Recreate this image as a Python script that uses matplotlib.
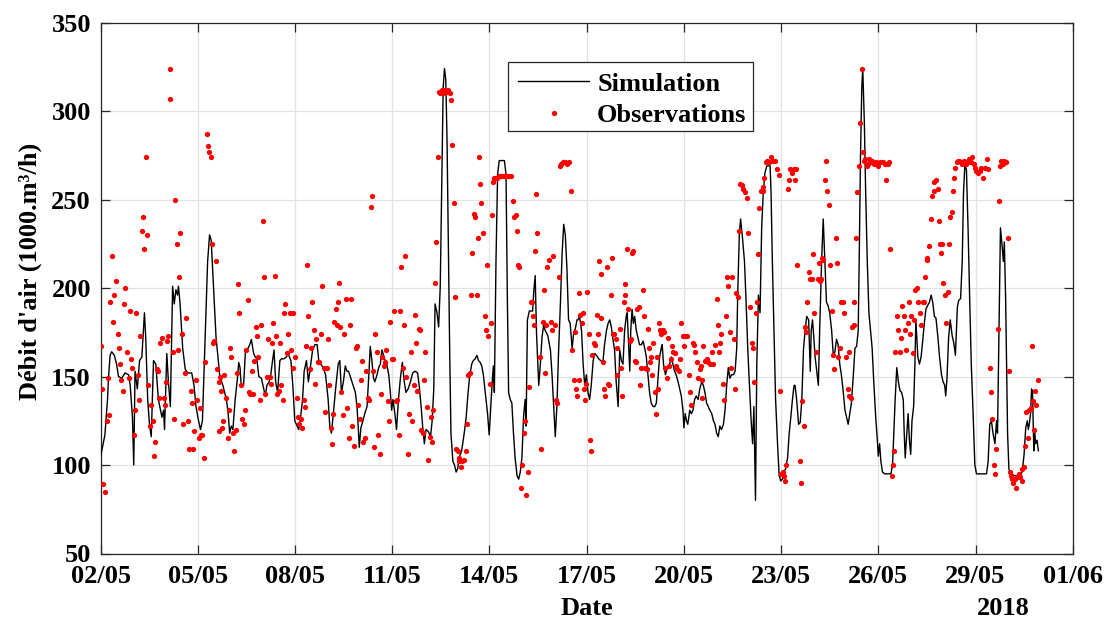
import numpy as np
import matplotlib
matplotlib.use('Agg')
import matplotlib.pyplot as plt
from matplotlib.patches import Rectangle

# ---------------- data (days since 02/05/2018 00:00) ----------------
sim_days = [0.00, 0.13, 0.21, 0.24, 0.29, 0.34, 0.42, 0.49, 0.55, 0.65, 0.75, 0.86, 0.91, 0.98, 1.02, 1.06, 1.13, 1.20, 1.27, 1.35,
            1.39, 1.45, 1.51, 1.56, 1.63, 1.70, 1.78, 1.89, 1.94, 1.97, 2.04, 2.09, 2.15, 2.22, 2.27, 2.32, 2.37, 2.40, 2.45, 2.53,
            2.61, 2.69, 2.81, 2.88, 2.94, 3.02, 3.08, 3.14, 3.23, 3.30, 3.36, 3.41, 3.48, 3.56, 3.62, 3.67, 3.77, 3.88, 3.93, 3.98,
            4.03, 4.08, 4.15, 4.22, 4.26, 4.30, 4.34, 4.41, 4.47, 4.55, 4.60, 4.65, 4.72, 4.77, 4.82, 4.88, 4.96, 5.03, 5.08, 5.13,
            5.20, 5.25, 5.29, 5.35, 5.40, 5.46, 5.53, 5.58, 5.65, 5.73, 5.78, 5.87, 5.93, 5.99, 6.06, 6.11, 6.17, 6.23, 6.28, 6.35,
            6.41, 6.47, 6.54, 6.61, 6.68, 6.73, 6.79, 6.87, 6.94, 7.02, 7.07, 7.12, 7.17, 7.25, 7.33, 7.38, 7.43, 7.49, 7.55, 7.60,
            7.65, 7.72, 7.79, 7.86, 7.91, 7.95, 7.98, 8.03, 8.08, 8.15, 8.22, 8.27, 8.32, 8.37, 8.42, 8.46, 8.53, 8.58, 8.63, 8.68,
            8.73, 8.78, 8.83, 8.89, 8.94, 8.98, 9.02, 9.08, 9.13, 9.19, 9.25, 9.31, 9.37, 9.42, 9.49, 9.56, 9.63, 9.70, 9.78, 9.83,
            9.89, 9.94, 9.99, 10.04, 10.11, 10.18, 10.23, 10.28, 10.32, 10.38, 10.43, 10.48, 10.53, 10.57, 10.61, 10.65, 10.69, 10.73, 10.77, 10.81,
            10.87, 10.92, 10.97, 11.02, 11.06, 11.14, 11.22, 11.28, 11.33, 11.38, 11.45, 11.50, 11.56, 11.61, 11.66, 11.71, 11.76, 11.81, 11.87, 11.94,
            11.99, 12.04, 12.09, 12.12, 12.15, 12.20, 12.25, 12.30, 12.38, 12.46, 12.51, 12.55, 12.59, 12.64, 12.69, 12.74, 12.79, 12.85, 12.90, 12.95,
            13.00, 13.05, 13.10, 13.13, 13.17, 13.23, 13.33, 13.37, 13.41, 13.45, 13.52, 13.57, 13.62, 13.67, 13.72, 13.80, 13.88, 13.93, 13.98, 14.03,
            14.08, 14.13, 14.19, 14.24, 14.29, 14.34, 14.39, 14.44, 14.49, 14.55, 14.60, 14.65, 14.70, 14.73, 14.78, 14.84, 14.89, 14.94, 14.99, 15.04,
            15.09, 15.14, 15.20, 15.25, 15.30, 15.37, 15.43, 15.50, 15.55, 15.61, 15.66, 15.71, 15.76, 15.81, 15.86, 15.91, 15.97, 16.02, 16.07, 16.12,
            16.17, 16.22, 16.25, 16.29, 16.33, 16.36, 16.40, 16.44, 16.48, 16.53, 16.58, 16.63, 16.69, 16.74, 16.79, 16.84, 16.89, 16.94, 16.99, 17.05,
            17.10, 17.15, 17.20, 17.25, 17.30, 17.33, 17.37, 17.43, 17.49, 17.56, 17.61, 17.66, 17.71, 17.76, 17.82, 17.87, 17.92, 17.97, 18.00, 18.04,
            18.08, 18.12, 18.18, 18.23, 18.28, 18.33, 18.38, 18.44, 18.49, 18.55, 18.60, 18.65, 18.70, 18.75, 18.80, 18.86, 18.91, 18.96, 19.01, 19.06,
            19.11, 19.16, 19.22, 19.27, 19.32, 19.37, 19.42, 19.47, 19.53, 19.58, 19.63, 19.66, 19.71, 19.75, 19.80, 19.87, 19.92, 19.97, 20.02, 20.07,
            20.12, 20.16, 20.21, 20.25, 20.30, 20.35, 20.40, 20.45, 20.50, 20.56, 20.61, 20.66, 20.69, 20.73, 20.78, 20.83, 20.89, 20.94, 20.99, 21.04,
            21.09, 21.14, 21.20, 21.25, 21.30, 21.35, 21.40, 21.43, 21.48, 21.54, 21.59, 21.64, 21.69, 21.74, 21.79, 21.85, 21.90, 21.93, 21.97, 22.01,
            22.05, 22.10, 22.15, 22.19, 22.25, 22.30, 22.35, 22.40, 22.45, 22.50, 22.56, 22.61, 22.66, 22.71, 22.76, 22.81, 22.86, 22.92, 22.97, 23.02,
            23.07, 23.12, 23.17, 23.23, 23.28, 23.33, 23.38, 23.41, 23.45, 23.49, 23.52, 23.57, 23.61, 23.66, 23.71, 23.76, 23.81, 23.86, 23.92, 23.97,
            24.00, 24.04, 24.08, 24.13, 24.20, 24.31, 24.39, 24.44, 24.48, 24.52, 24.57, 24.62, 24.67, 24.72, 24.77, 24.80, 24.83, 24.88, 24.92, 24.96,
            25.00, 25.04, 25.09, 25.13, 25.16, 25.22, 25.27, 25.32, 25.37, 25.42, 25.47, 25.52, 25.58, 25.63, 25.68, 25.73, 25.78, 25.84, 25.89, 25.95,
            26.00, 26.05, 26.08, 26.12, 26.17, 26.22, 26.28, 26.33, 26.38, 26.41, 26.44, 26.48, 26.54, 26.59, 26.63, 26.67, 26.72, 26.77, 26.82, 26.87,
            26.93, 26.98, 27.03, 27.18, 27.34, 27.39, 27.44, 27.49, 27.54, 27.60, 27.65, 27.68, 27.71, 27.74, 27.77, 27.80, 27.83, 27.86, 27.89, 27.93,
            27.96, 27.99, 28.03, 28.07, 28.21, 28.37, 28.44, 28.50, 28.55, 28.60, 28.63, 28.66, 28.70, 28.73, 28.76, 28.80, 28.83, 28.86, 28.90, 28.94]
sim_vals = [105, 117, 137, 149, 162, 164, 162, 157, 150, 149, 152, 151, 145, 127, 100, 153, 143, 159, 161, 186,
            172, 137, 122, 116, 159, 157, 137, 127, 131, 120, 163, 147, 133, 201, 191, 199, 196, 201, 191, 166,
            154, 152, 152, 145, 133, 125, 120, 125, 176, 215, 230, 227, 201, 172, 161, 151, 145, 137, 130, 118,
            122, 120, 137, 149, 158, 155, 144, 145, 165, 166, 168, 171, 163, 161, 160, 150, 149, 143, 139, 145,
            147, 151, 157, 165, 147, 141, 159, 160, 160, 161, 163, 159, 145, 125, 122, 120, 127, 137, 153, 159,
            147, 155, 165, 168, 168, 159, 157, 155, 151, 137, 122, 118, 127, 143, 157, 159, 141, 147, 156, 153,
            153, 149, 145, 141, 133, 121, 110, 121, 124, 129, 133, 149, 167, 159, 149, 147, 151, 155, 157, 165,
            162, 159, 157, 151, 141, 131, 137, 129, 120, 137, 149, 158, 147, 141, 143, 147, 152, 153, 152, 145,
            133, 121, 112, 120, 119, 116, 125, 143, 191, 186, 178, 201, 264, 313, 324, 318, 283, 225, 166, 118,
            102, 100, 96, 98, 104, 108, 118, 127, 139, 149, 157, 159, 160, 162, 159, 158, 156, 151, 141, 129,
            117, 133, 149, 156, 141, 215, 264, 272, 272, 272, 264, 196, 141, 137, 135, 118, 104, 94, 92, 96,
            104, 127, 137, 122, 182, 187, 187, 199, 207, 175, 145, 157, 172, 179, 176, 173, 165, 151, 133, 116,
            133, 163, 192, 219, 236, 230, 211, 182, 180, 166, 175, 177, 182, 182, 184, 176, 157, 145, 151, 141,
            137, 145, 159, 163, 162, 160, 159, 158, 168, 176, 180, 182, 178, 171, 165, 147, 133, 165, 159, 157,
            176, 184, 186, 170, 153, 176, 188, 180, 184, 176, 172, 168, 168, 170, 166, 161, 151, 141, 135, 133,
            133, 135, 149, 161, 166, 168, 157, 151, 155, 157, 161, 157, 153, 151, 147, 143, 139, 131, 121, 129,
            125, 123, 131, 129, 131, 137, 139, 137, 143, 147, 145, 141, 135, 133, 131, 129, 125, 123, 118, 116,
            122, 120, 123, 131, 145, 155, 149, 151, 151, 153, 166, 196, 230, 239, 230, 215, 192, 166, 147, 127,
            112, 133, 80, 157, 196, 186, 234, 254, 265, 269, 269, 269, 254, 215, 176, 137, 112, 94, 91, 92,
            96, 98, 104, 118, 127, 137, 145, 145, 137, 123, 124, 137, 165, 176, 184, 182, 153, 176, 182, 172,
            161, 153, 145, 176, 215, 239, 215, 192, 190, 186, 176, 162, 164, 171, 168, 157, 151, 141, 131, 127,
            123, 129, 135, 151, 166, 167, 176, 215, 274, 313, 324, 293, 254, 215, 186, 176, 166, 147, 127, 114,
            105, 112, 102, 96, 95, 95, 95, 100, 118, 137, 155, 147, 142, 141, 137, 118, 104, 118, 129, 114,
            106, 125, 133, 157, 182, 161, 157, 161, 170, 180, 188, 190, 192, 196, 192, 184, 183, 172, 161, 151,
            147, 145, 139, 149, 172, 182, 173, 169, 162, 176, 189, 193, 194, 215, 254, 269, 267, 234, 194, 157,
            127, 100, 95, 95, 95, 102, 123, 125, 118, 112, 125, 118, 157, 194, 234, 228, 222, 215, 226, 194,
            157, 118, 98, 95, 94, 94, 96, 106, 121, 125, 120, 123, 129, 143, 141, 108, 118, 112, 114, 108]

obs_days = [0.00, 0.05, 0.08, 0.13, 0.18, 0.26, 0.22, 0.29, 0.34, 0.39, 0.42, 0.47, 0.52, 0.55, 0.60, 0.63, 0.68, 0.73, 0.76, 0.80,
            0.86, 0.89, 0.93, 0.97, 1.02, 1.05, 1.10, 1.14, 1.18, 1.22, 1.27, 1.30, 1.34, 1.39, 1.42, 1.47, 1.51, 1.56, 1.60, 1.64,
            1.68, 1.73, 1.78, 1.81, 1.84, 1.89, 1.94, 1.97, 2.02, 2.05, 2.09, 2.15, 2.14, 2.23, 2.27, 2.30, 2.34, 2.38, 2.42, 2.46,
            2.51, 2.55, 2.59, 2.64, 2.69, 2.73, 2.78, 2.81, 2.85, 2.89, 2.94, 2.97, 3.02, 3.08, 3.10, 3.14, 3.18, 3.23, 3.27, 3.30,
            3.35, 3.39, 3.43, 3.46, 3.51, 3.56, 3.60, 3.66, 3.64,
            3.67, 3.70, 3.74, 3.78, 3.82, 3.88, 3.93, 3.95, 3.99, 4.03, 4.08, 4.12, 4.17, 4.21, 4.25, 4.28, 4.33, 4.37, 4.41, 4.45,
            4.49, 4.54, 4.58, 4.62, 4.66, 4.70, 4.74, 4.78, 4.82, 4.87, 4.91, 4.95, 5.00, 5.04, 5.08, 5.12, 5.16, 5.21, 5.25, 5.29,
            5.33, 5.37, 5.41, 5.45, 5.49, 5.54, 5.58, 5.62, 5.66, 5.70, 5.74, 5.78, 5.83, 5.88, 5.92, 5.95, 6.01, 6.05, 6.09, 6.13,
            6.17, 6.22, 6.26, 6.30, 6.34, 6.38, 6.41, 6.45, 6.49, 6.53, 6.58, 6.62, 6.66, 6.71, 6.74, 6.79, 6.83, 6.88, 6.92, 6.97,
            7.01, 7.06, 7.10, 7.13, 7.17, 7.21, 7.25, 7.29, 7.33, 7.35,
            7.39, 7.43, 7.48, 7.52, 7.57, 7.61, 7.65, 7.69, 7.73, 7.77, 7.82, 7.87, 7.91, 7.95, 7.99, 8.02, 8.06, 8.11, 8.15, 8.20,
            8.25, 8.29, 8.34, 8.36, 8.39, 8.43, 8.48, 8.53, 8.57, 8.61, 8.65, 8.69, 8.73, 8.77, 8.81, 8.86, 8.90, 8.94, 8.98, 9.02,
            9.06, 9.10, 9.14, 9.20, 9.24, 9.28, 9.32, 9.36, 9.40, 9.43, 9.49, 9.53, 9.57, 9.61, 9.66, 9.69, 9.73, 9.77, 9.81, 9.86,
            9.90, 9.95, 9.99, 10.02, 10.06, 10.11, 10.15, 10.20, 10.24, 10.27, 10.31, 10.35, 10.40, 10.43, 10.48, 10.53, 10.57, 10.61, 10.65, 10.69,
            10.73, 10.77, 10.81, 10.85, 10.90, 10.94, 10.98, 11.02, 11.05,
            11.06, 11.12, 11.16, 11.22, 11.27, 11.30, 11.35, 11.39, 11.42, 11.46, 11.51, 11.55, 11.60, 11.63, 11.67, 11.70, 11.75, 11.79, 11.85, 11.88,
            11.92, 11.96, 12.01, 12.05, 12.09, 12.12, 12.15, 12.20, 12.24, 12.28, 12.32, 12.36, 12.40, 12.44, 12.48, 12.54, 12.59, 12.65, 12.71, 12.76,
            12.81, 12.85, 12.88, 12.92, 12.97, 13.00, 13.06, 13.09, 13.13, 13.19, 13.21, 13.27, 13.32, 13.35, 13.36, 13.41, 13.44, 13.48, 13.55, 13.60,
            13.64, 13.67, 13.71, 13.75, 13.79, 13.85, 13.89, 13.92, 13.97, 14.01, 14.05, 14.09, 14.13, 14.18, 14.22, 14.26, 14.30, 14.34, 14.38, 14.46,
            14.52, 14.55, 14.60, 14.63, 14.67, 14.70, 14.75, 14.77, 14.79,
            14.84, 14.89, 14.92, 14.96, 14.99, 15.02, 15.08, 15.11, 15.14, 15.17, 15.23, 15.27, 15.31, 15.35, 15.39, 15.43, 15.45, 15.50, 15.53, 15.58,
            15.62, 15.66, 15.70, 15.74, 15.78, 15.81, 15.85, 15.89, 15.93, 15.95, 16.02, 16.07, 16.10, 16.15, 16.17, 16.19, 16.24, 16.27, 16.33, 16.38,
            16.41, 16.44, 16.48, 16.52, 16.56, 16.60, 16.66, 16.69, 16.74, 16.78, 16.81, 16.85, 16.89, 16.91, 16.95, 16.98, 17.01, 17.06, 17.10, 17.14,
            17.17, 17.20, 17.22, 17.26, 17.30, 17.34, 17.39, 17.43, 17.47, 17.51, 17.55, 17.59, 17.63, 17.67, 17.71, 17.75, 17.80, 17.84, 17.88, 17.92,
            17.97, 18.00, 18.04, 18.10, 18.15, 18.19, 18.23, 18.27, 18.31, 18.35, 18.39, 18.43,
            18.49, 18.53, 18.55, 18.57, 18.60, 18.65, 18.70, 18.75, 18.80, 18.86, 18.91, 18.96, 19.01, 19.04, 19.08, 19.12, 19.16, 19.22, 19.25, 19.29,
            19.33, 19.37, 19.41, 19.45, 19.49, 19.54, 19.58, 19.62, 19.66, 19.70, 19.73, 19.78, 19.83, 19.89, 19.94, 19.99, 20.04, 20.09, 20.12, 20.16,
            20.21, 20.25, 20.28, 20.33, 20.37, 20.43, 20.45, 20.48, 20.53, 20.58, 20.63, 20.69, 20.74, 20.81, 20.87, 20.92, 20.97, 21.00, 21.05, 21.09,
            21.12, 21.16, 21.21, 21.25, 21.29, 21.35, 21.40, 21.43, 21.46, 21.50, 21.57, 21.62, 21.66, 21.70, 21.74, 21.77, 21.80, 21.85, 21.89, 21.95,
            21.99, 22.03, 22.07, 22.13, 22.17,
            22.19, 22.23, 22.27, 22.30, 22.35, 22.40, 22.43, 22.47, 22.52, 22.56, 22.61, 22.64, 22.69, 22.73, 22.77, 22.82, 22.86, 22.92, 22.93, 22.99,
            23.05, 23.09, 23.11, 23.17, 23.19, 23.25, 23.25, 23.31, 23.35, 23.39, 23.43, 23.50, 23.52, 23.56, 23.59, 23.64, 23.69, 23.72, 23.77, 23.82,
            23.88, 23.93, 24.00, 24.06, 24.14, 24.20, 24.25, 24.29, 24.33, 24.36, 24.41, 24.45, 24.48, 24.53, 24.58, 24.62, 24.66, 24.70, 24.74, 24.78,
            24.82, 24.86, 24.91, 24.96, 24.99, 25.02, 25.06, 25.10, 25.14, 25.18, 25.24, 25.28, 25.32, 25.37, 25.40, 25.45, 25.49, 25.51, 25.58, 25.62,
            25.67, 25.71, 25.73, 25.77, 25.85, 25.87, 25.90,
            25.95, 25.97, 26.01, 26.05, 26.10, 26.14, 26.18, 26.22, 26.26, 26.31, 26.34, 26.38, 26.42, 26.46, 26.50, 26.54, 26.59, 26.63, 26.67, 26.72,
            26.77, 26.81, 26.85, 26.89, 26.94, 26.98, 27.03, 27.08, 27.13, 27.18, 27.23, 27.29, 27.34, 27.39, 27.44, 27.47, 27.52, 27.58, 27.60, 27.64,
            27.68, 27.73, 27.77, 27.80, 27.85, 27.88, 27.94, 27.99, 28.03, 28.06, 28.11, 28.14, 28.17, 28.21, 28.25, 28.29, 28.34, 28.38, 28.42, 28.45,
            28.49, 28.54, 28.57, 28.63, 28.66, 28.70, 28.73, 28.76, 28.80, 28.83, 28.86, 28.92]
obs_vals = [167, 143, 89, 85, 125, 128, 149, 192, 218, 181, 196, 204, 174, 166, 157, 148, 142, 191, 200, 164,
            149, 187, 160, 155, 117, 131, 186, 151, 137, 173, 232, 240, 222, 274, 230, 145, 122, 134, 125, 105,
            113, 154, 153, 138, 169, 172, 138, 134, 147, 170, 173, 324, 307, 164, 126, 250, 225, 165, 206, 231,
            174, 123, 152, 183, 125, 109, 142, 135, 109, 119, 148, 137, 115, 132, 117, 117, 104, 158, 287, 280,
            277, 274, 225, 169, 170, 215, 154, 147, 119,
            150, 142, 121, 125, 151, 138, 115, 131, 166, 161, 118, 108, 120, 152, 202, 186, 145, 126, 123, 131,
            165, 193, 141, 140, 153, 140, 159, 178, 173, 161, 137, 179, 238, 206, 140, 150, 171, 150, 146, 169,
            180, 207, 173, 140, 142, 169, 145, 137, 186, 191, 163, 174, 186, 165, 155, 186, 161, 138, 127, 123,
            126, 121, 137, 133, 167, 213, 184, 154, 166, 192, 176, 146, 171, 158, 158, 174, 201, 155, 130, 155,
            171, 145, 121, 112, 129, 181, 188, 179, 192, 203,
            178, 141, 128, 174, 194, 132, 115, 179, 194, 122, 111, 166, 167, 134, 126, 148, 159, 113, 115, 153,
            138, 137, 246, 252, 153, 110, 174, 164, 117, 106, 140, 161, 156, 158, 165, 136, 125, 181, 160, 160,
            187, 136, 137, 117, 187, 212, 155, 179, 218, 150, 106, 129, 164, 125, 145, 185, 169, 142, 177, 176,
            120, 118, 148, 164, 133, 103, 116, 127, 113, 131, 203, 226, 274, 311, 310, 312, 310, 312, 311, 311,
            312, 310, 306, 281, 248, 195, 109, 108, 102,
            104, 99, 102, 103, 108, 123, 151, 152, 196, 220, 242, 240, 196, 228, 274, 259, 248, 231, 184, 176,
            213, 173, 146, 180, 241, 260, 262, 262, 262, 263, 263, 263, 263, 263, 263, 263, 263, 263, 249, 240,
            241, 232, 213, 212, 87, 100, 118, 125, 83, 96, 144, 192, 192, 184, 179, 221, 253, 231, 161, 109,
            181, 199, 152, 179, 212, 216, 181, 176, 218, 179, 137, 135, 206, 269, 270, 271, 271, 271, 270, 271,
            255, 165, 148, 175, 143, 139, 197, 148, 185,
            180, 186, 143, 137, 146, 198, 174, 114, 108, 162, 169, 168, 185, 174, 215, 208, 183, 158, 143, 139,
            212, 146, 145, 196, 217, 174, 174, 171, 166, 151, 177, 155, 139, 192, 202, 196, 222, 188, 170, 171,
            220, 221, 159, 158, 188, 189, 145, 155, 199, 184, 155, 154, 177, 166, 158, 161, 151, 169, 141, 129,
            161, 143, 180, 176, 174, 176, 175, 155, 149, 172, 156, 160, 167, 164, 163, 156, 154, 153, 160, 180,
            173, 167, 173, 173, 151, 141, 134, 169, 168, 164, 158, 149,
            154, 156, 138, 148, 167, 159, 160, 158, 157, 164, 157, 168, 194, 179, 164, 169, 174, 146, 137, 184,
            206, 201, 175, 155, 206, 171, 143, 197, 195, 232, 259, 258, 256, 254, 251, 231, 189, 169, 166, 147,
            186, 192, 219, 245, 255, 255, 257, 262, 271, 272, 271, 274, 272, 272, 267, 264, 142, 95, 96, 94,
            91, 100, 256, 261, 267, 265, 267, 261, 267, 213, 102, 90, 136, 122, 178, 175, 192, 209, 205, 205,
            219, 186, 164, 205, 214,
            204, 205, 217, 216, 261, 272, 255, 247, 213, 187, 162, 154, 228, 214, 161, 166, 192, 192, 186, 161,
            143, 139, 164, 138, 178, 179, 192, 228, 254, 269, 293, 324, 277, 272, 273, 269, 270, 273, 271, 272,
            270, 271, 269, 271, 271, 270, 261, 270, 271, 222, 94, 100, 108, 164, 184, 176, 164, 172, 190, 184,
            176, 165, 180, 192, 174, 184, 163, 182, 199, 200, 192, 186, 179, 192, 192, 206, 217, 216, 224, 239,
            252, 255, 260, 261, 256, 238, 225,
            220, 225, 203, 196, 180, 198, 225, 240, 243, 255, 262, 268, 271, 272, 272, 271, 270, 272, 271, 270,
            271, 273, 271, 274, 270, 268, 266, 265, 266, 268, 262, 268, 273, 267, 155, 141, 126, 100, 95, 109,
            177, 249, 269, 272, 270, 272, 271, 228, 153, 96, 94, 92, 90, 92, 87, 93, 95, 93, 91, 98,
            99, 111, 130, 115, 131, 132, 167, 136, 120, 142, 134, 148]

tick_days = [0, 3, 6, 9, 12, 15, 18, 21, 24, 27, 30]
tick_labels = ['02/05', '05/05', '08/05', '11/05', '14/05', '17/05', '20/05', '23/05', '26/05', '29/05', '01/06']
y_ticks = [50, 100, 150, 200, 250, 300, 350]

# ---------------- figure ----------------
plt.rcParams['font.family'] = ['Liberation Serif', 'DejaVu Serif']
plt.rcParams['font.weight'] = 'bold'
plt.rcParams['axes.labelweight'] = 'bold'
FS = 19

W, H = 1105, 622
fig = plt.figure(figsize=(W / 100, H / 100), dpi=100)
left, right, top, bottom = 100.7, 1072.7, 22.5, 553.5
ax = fig.add_axes([left / W, 1 - bottom / H, (right - left) / W, (bottom - top) / H])

ax.plot(sim_days, sim_vals, color='black', lw=1.0, label='Simulation', zorder=3)
ax.plot(obs_days, obs_vals, linestyle='none', marker='o', ms=3.8, mew=0, color='red',
        label='Observations', zorder=4)

ax.set_xlim(0, 30)
ax.set_ylim(50, 350)
ax.set_xticks(tick_days)
ax.set_xticklabels(tick_labels)
ax.set_yticks(y_ticks)
ax.grid(True, color='#e3e3e3', lw=0.9)
ax.set_axisbelow(True)

axis_col = '#262626'
for s in ax.spines.values():
    s.set_color(axis_col)
    s.set_linewidth(0.9)
ax.tick_params(direction='in', length=6.5, width=0.9, top=True, right=True,
               color=axis_col, labelcolor='black', labelsize=FS)
ax.tick_params(axis='x', pad=8)
ax.tick_params(axis='y', pad=7)

ax.set_xlabel('Date', fontsize=FS, fontweight='bold')
ax.xaxis.label.set_verticalalignment('center')
ax.xaxis.set_label_coords(0.5, -0.103)
ax.set_ylabel("Débit d'air (1000.m³/h)", fontsize=FS, fontweight='bold')
ax.yaxis.set_label_coords(-0.0604, 0.532)
ax.text(0.929, -0.103, '2018', transform=ax.transAxes, ha='center', va='center',
        fontsize=FS, fontweight='bold')

# legend box drawn as its own white rectangle (exact MATLAB-like placement)
ax.add_patch(Rectangle((0.4190, 0.7957), 0.6711 - 0.4190, 0.9256 - 0.7957,
                       transform=ax.transAxes, facecolor='white', edgecolor=axis_col,
                       linewidth=0.9, zorder=5))
leg = ax.legend(loc='upper left', bbox_to_anchor=(0.419, 0.9256), borderaxespad=0,
                frameon=False, handlelength=2.7, handletextpad=0.3, borderpad=0.38,
                labelspacing=0.32, prop={'weight': 'bold', 'size': FS})
leg.set_zorder(6)

fig.savefig('out.png', dpi=100)
